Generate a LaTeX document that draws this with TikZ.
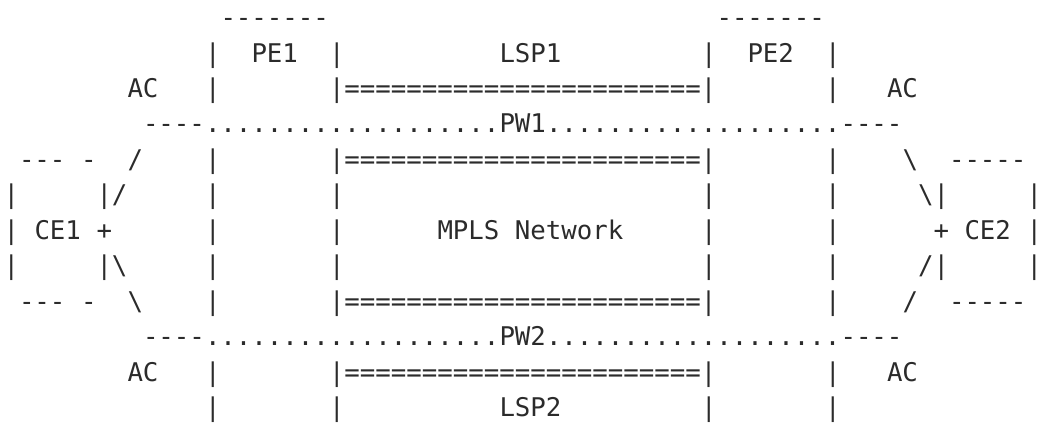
\documentclass[tikz,border=0pt]{standalone}
\usepackage{fontspec}
\setmonofont{DejaVu Sans Mono}
\definecolor{ink}{HTML}{2B2B2B}
\tikzset{ascii/.style={anchor=base west, inner sep=0pt, outer sep=0pt, text=ink, font=\ttfamily\fontsize{12.87}{15}\selectfont}}

\begin{document}
\begin{tikzpicture}[x=7.75pt, y=-17.725pt]
        \useasboundingbox (-0.226,-0.750) rectangle (67.323,11.803);
        % labels
        \begin{scope}[every node/.style={ascii}]
            \node (pe1) at (16, 1) {PE1};
            \node (pe2) at (48, 1) {PE2};
            \node (lsp1) at (32, 1) {LSP1};
            \node (lsp2) at (32, 11) {LSP2};
            \node (ac1) at (8, 2) {AC};
            \node (ac2) at (57, 2) {AC};
            \node (ac3) at (8, 10) {AC};
            \node (ac4) at (57, 10) {AC};
            \node (pw1) at (32, 3) {PW1};
            \node (pw2) at (32, 9) {PW2};
            \node (ce1) at (2, 6) {CE1};
            \node (ce2) at (62, 6) {CE2};
            \node (mpls) at (28, 6) {MPLS Network};
        \end{scope}
        % boxes and links
        \begin{scope}[every node/.style={ascii}]
            \node (pe1top) at (14, 0) {-------};
            \node (pe2top) at (46, 0) {-------};
            \node (pe1l1) at (13, 1) {|};
            \node (pe1r1) at (21, 1) {|};
            \node (pe2l1) at (45, 1) {|};
            \node (pe2r1) at (53, 1) {|};
            \node (pe1l2) at (13, 2) {|};
            \node (lsp1top) at (21, 2) {|=======================|};
            \node (pe2r2) at (53, 2) {|};
            \node (ac1a) at (9, 3) {----};
            \node (pw1a) at (13, 3) {...................};
            \node (pw1b) at (35, 3) {...................};
            \node (ac2a) at (54, 3) {----};
            \node (ce1top) at (1, 4) {---};
            \node (ce1topb) at (5, 4) {-};
            \node (ac1b) at (8, 4) {/};
            \node (pe1l4) at (13, 4) {|};
            \node (lsp1bot) at (21, 4) {|=======================|};
            \node (pe2r4) at (53, 4) {|};
            \node (ac2b) at (58, 4) {\textbackslash};
            \node (ce2top) at (61, 4) {-----};
            \node (ce1l5) at (0, 5) {|};
            \node (ac1c) at (6, 5) {|/};
            \node (pe1l5) at (13, 5) {|};
            \node (pe1r5) at (21, 5) {|};
            \node (pe2l5) at (45, 5) {|};
            \node (pe2r5) at (53, 5) {|};
            \node (ac2c) at (59, 5) {\textbackslash|};
            \node (ce2r5) at (66, 5) {|};
            \node (ce1l6) at (0, 6) {|};
            \node (ce1p) at (6, 6) {+};
            \node (pe1l6) at (13, 6) {|};
            \node (pe1r6) at (21, 6) {|};
            \node (pe2l6) at (45, 6) {|};
            \node (pe2r6) at (53, 6) {|};
            \node (ce2p) at (60, 6) {+};
            \node (ce2r6) at (66, 6) {|};
            \node (ce1l7) at (0, 7) {|};
            \node (ac3c) at (6, 7) {|\textbackslash};
            \node (pe1l7) at (13, 7) {|};
            \node (pe1r7) at (21, 7) {|};
            \node (pe2l7) at (45, 7) {|};
            \node (pe2r7) at (53, 7) {|};
            \node (ac4c) at (59, 7) {/|};
            \node (ce2r7) at (66, 7) {|};
            \node (ce1bot) at (1, 8) {---};
            \node (ce1botb) at (5, 8) {-};
            \node (ac3b) at (8, 8) {\textbackslash};
            \node (pe1l8) at (13, 8) {|};
            \node (lsp2top) at (21, 8) {|=======================|};
            \node (pe2r8) at (53, 8) {|};
            \node (ac4b) at (58, 8) {/};
            \node (ce2bot) at (61, 8) {-----};
            \node (ac3a) at (9, 9) {----};
            \node (pw2a) at (13, 9) {...................};
            \node (pw2b) at (35, 9) {...................};
            \node (ac4a) at (54, 9) {----};
            \node (pe1l10) at (13, 10) {|};
            \node (lsp2bot) at (21, 10) {|=======================|};
            \node (pe2r10) at (53, 10) {|};
            \node (pe1l11) at (13, 11) {|};
            \node (pe1r11) at (21, 11) {|};
            \node (pe2l11) at (45, 11) {|};
            \node (pe2r11) at (53, 11) {|};
        \end{scope}
    \end{tikzpicture}
\end{document}
